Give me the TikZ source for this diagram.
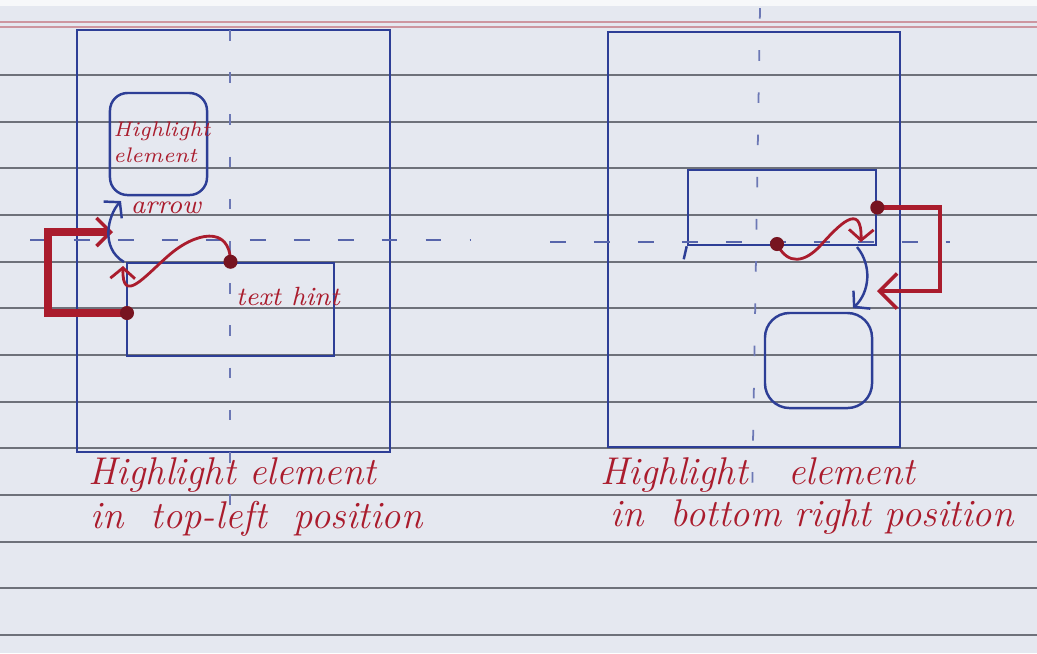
\documentclass[tikz,border=0pt]{standalone}
\usetikzlibrary{arrows.meta}
\definecolor{paper}{RGB}{229,232,240}
\definecolor{rule}{RGB}{110,113,122}
\definecolor{margin}{RGB}{205,150,160}
\definecolor{ink}{RGB}{45,62,150}
\definecolor{redink}{RGB}{170,28,45}
\tikzset{
  ruleline/.style={draw=rule, line width=0.5pt},
  frame/.style={draw=ink, line width=0.7pt, inner sep=0pt},
  sharpbox/.style={draw=ink, line width=0.7pt, inner sep=0pt},
  roundbox/.style={draw=ink, line width=0.7pt, inner sep=0pt, rounded corners=5pt},
  guide/.style={draw=ink!70, line width=0.5pt, dash pattern=on 3pt off 9pt},
  foldline/.style={draw=ink!80, line width=0.6pt, dash pattern=on 4.5pt off 8pt},
  redlabel/.style={text=redink, font=\itshape, inner sep=0pt},
  caption/.style={text=redink, font=\fontsize{11}{13}\selectfont\itshape, inner sep=0pt, anchor=base west},
  thickred/.style={draw=redink, line width=2.4pt, -{Straight Barb[length=4pt,width=8pt,line width=1pt]}},
  redcurve/.style={draw=redink, line width=0.8pt},
  bluecurve/.style={draw=ink, line width=0.7pt},
  dot/.style={fill=redink!70!black, circle, inner sep=0pt, minimum size=4pt},
}
\begin{document}
\begin{tikzpicture}[x=0.01cm, y=-0.01cm]
  % paper
  \fill[paper] (0,0) rectangle (1037,653);
  \useasboundingbox (0,0) rectangle (1037,653);
  \fill[white!70!paper] (0,0) rectangle (1037,6);
  % margin double line and ruling
  \draw[margin, line width=0.6pt] (0,22) -- (1037,22);
  \draw[margin, line width=0.6pt] (0,27) -- (1037,27);
  \foreach \yy in {75,121.7,168.3,215,261.7,308.3,355,401.7,448.3,495,541.7,588.3,635}
    \draw[ruleline] (0,\yy) -- (1037,\yy);

  % ---------- left sketch: highlight in top-left position ----------
  \node[frame, minimum width=3.13cm, minimum height=4.22cm] (frameL) at (233.5,241) {};
  \draw[guide] (230,30) -- (230,525);
  \node[roundbox, minimum width=0.97cm, minimum height=1.02cm] (hlL) at (158.5,144) {};
  \node[redlabel, font=\fontsize{6}{7.5}\selectfont\itshape, align=left] (hlLtext) at (162,142) {Highlight\\element};
  \node[sharpbox, minimum width=2.07cm, minimum height=0.93cm] (hintL) at (230.5,309.5) {};
  \node[redlabel, font=\fontsize{7.5}{9}\selectfont\itshape] (hintLtext) at (288,296) {text hint};
  \node[redlabel, font=\fontsize{7.5}{9}\selectfont\itshape] (arrowtxt) at (166,208) {arrow};
  \draw[foldline] (30,240) -- (470,240);

  \coordinate (redEndL) at (113,232);
  \coordinate (redTurnL) at (48,232);
  \coordinate (dotL) at (127,313);
  \coordinate (sStartL) at (hintL.north);
  \coordinate (sEndL) at (123,266);
  \coordinate (blueStartL) at (124,262);
  \coordinate (blueEndL) at (121,201);

  \draw[thickred] (dotL) -- (dotL -| redTurnL) -- (redTurnL) -- (redEndL);
  \node[dot] at (dotL) {};
  \draw[redcurve, -{Straight Barb[length=3pt,width=7pt]}]
    (sStartL) .. controls (230,225) and (195,232) .. (168,256)
    .. controls (145,276) and (122,305) .. (sEndL);
  \node[dot] at (sStartL) {};
  \draw[bluecurve, -{Straight Barb[length=3pt,width=7pt]}]
    (blueStartL) .. controls (100,248) and (108,215) .. (blueEndL);

  % captions
  \node[caption] (capL1) at (88,484) {Highlight element};
  \node[caption] (capL2) at (90,528) {in\ \ top-left\ \ position};

  % ---------- right sketch: highlight in bottom right position ----------
  \node[frame, minimum width=2.92cm, minimum height=4.15cm] (frameR) at (754,239.5) {};
  \draw[guide] (760,8) -- (752,505);
  \node[sharpbox, minimum width=1.88cm, minimum height=0.75cm] (hintR) at (782,207.5) {};
  \draw[ink, line width=0.7pt] (hintR.south west) -- ++(-3,13);
  \node[roundbox, rounded corners=7pt, minimum width=1.07cm, minimum height=0.95cm] (hlR) at (818.5,360.5) {};
  \draw[foldline] (550,242) -- (950,242);

  \coordinate (redTurnR1) at (940,207.5);
  \coordinate (redTurnR2) at (940,291);
  \coordinate (redEndR) at (877,291);
  \draw[redink, line width=1.2pt, -{Straight Barb[length=5pt,width=10pt,line width=1pt]}]
    (hintR.east) -- (redTurnR1) -- (redTurnR2) -- (redEndR);
  \node[dot] at (hintR.east) {};

  \coordinate (sStartR) at (777,244);
  \coordinate (sEndR) at (861,242);
  \draw[redcurve, -{Straight Barb[length=3pt,width=7pt]}]
    (sStartR) .. controls (788,266) and (805,262) .. (820,246)
    .. controls (838,226) and (862,200) .. (sEndR);
  \node[dot] at (sStartR) {};

  \coordinate (blueStartR) at (857,247);
  \coordinate (blueEndR) at (853,308);
  \draw[bluecurve, -{Straight Barb[length=3pt,width=7pt]}]
    (blueStartR) .. controls (872,265) and (870,292) .. (blueEndR);

  % captions
  \node[caption] (capR1) at (600,484) {Highlight\ \ \ element};
  \node[caption] (capR2) at (610,526) {in\ \ bottom\ right\ position};
\end{tikzpicture}
\end{document}
